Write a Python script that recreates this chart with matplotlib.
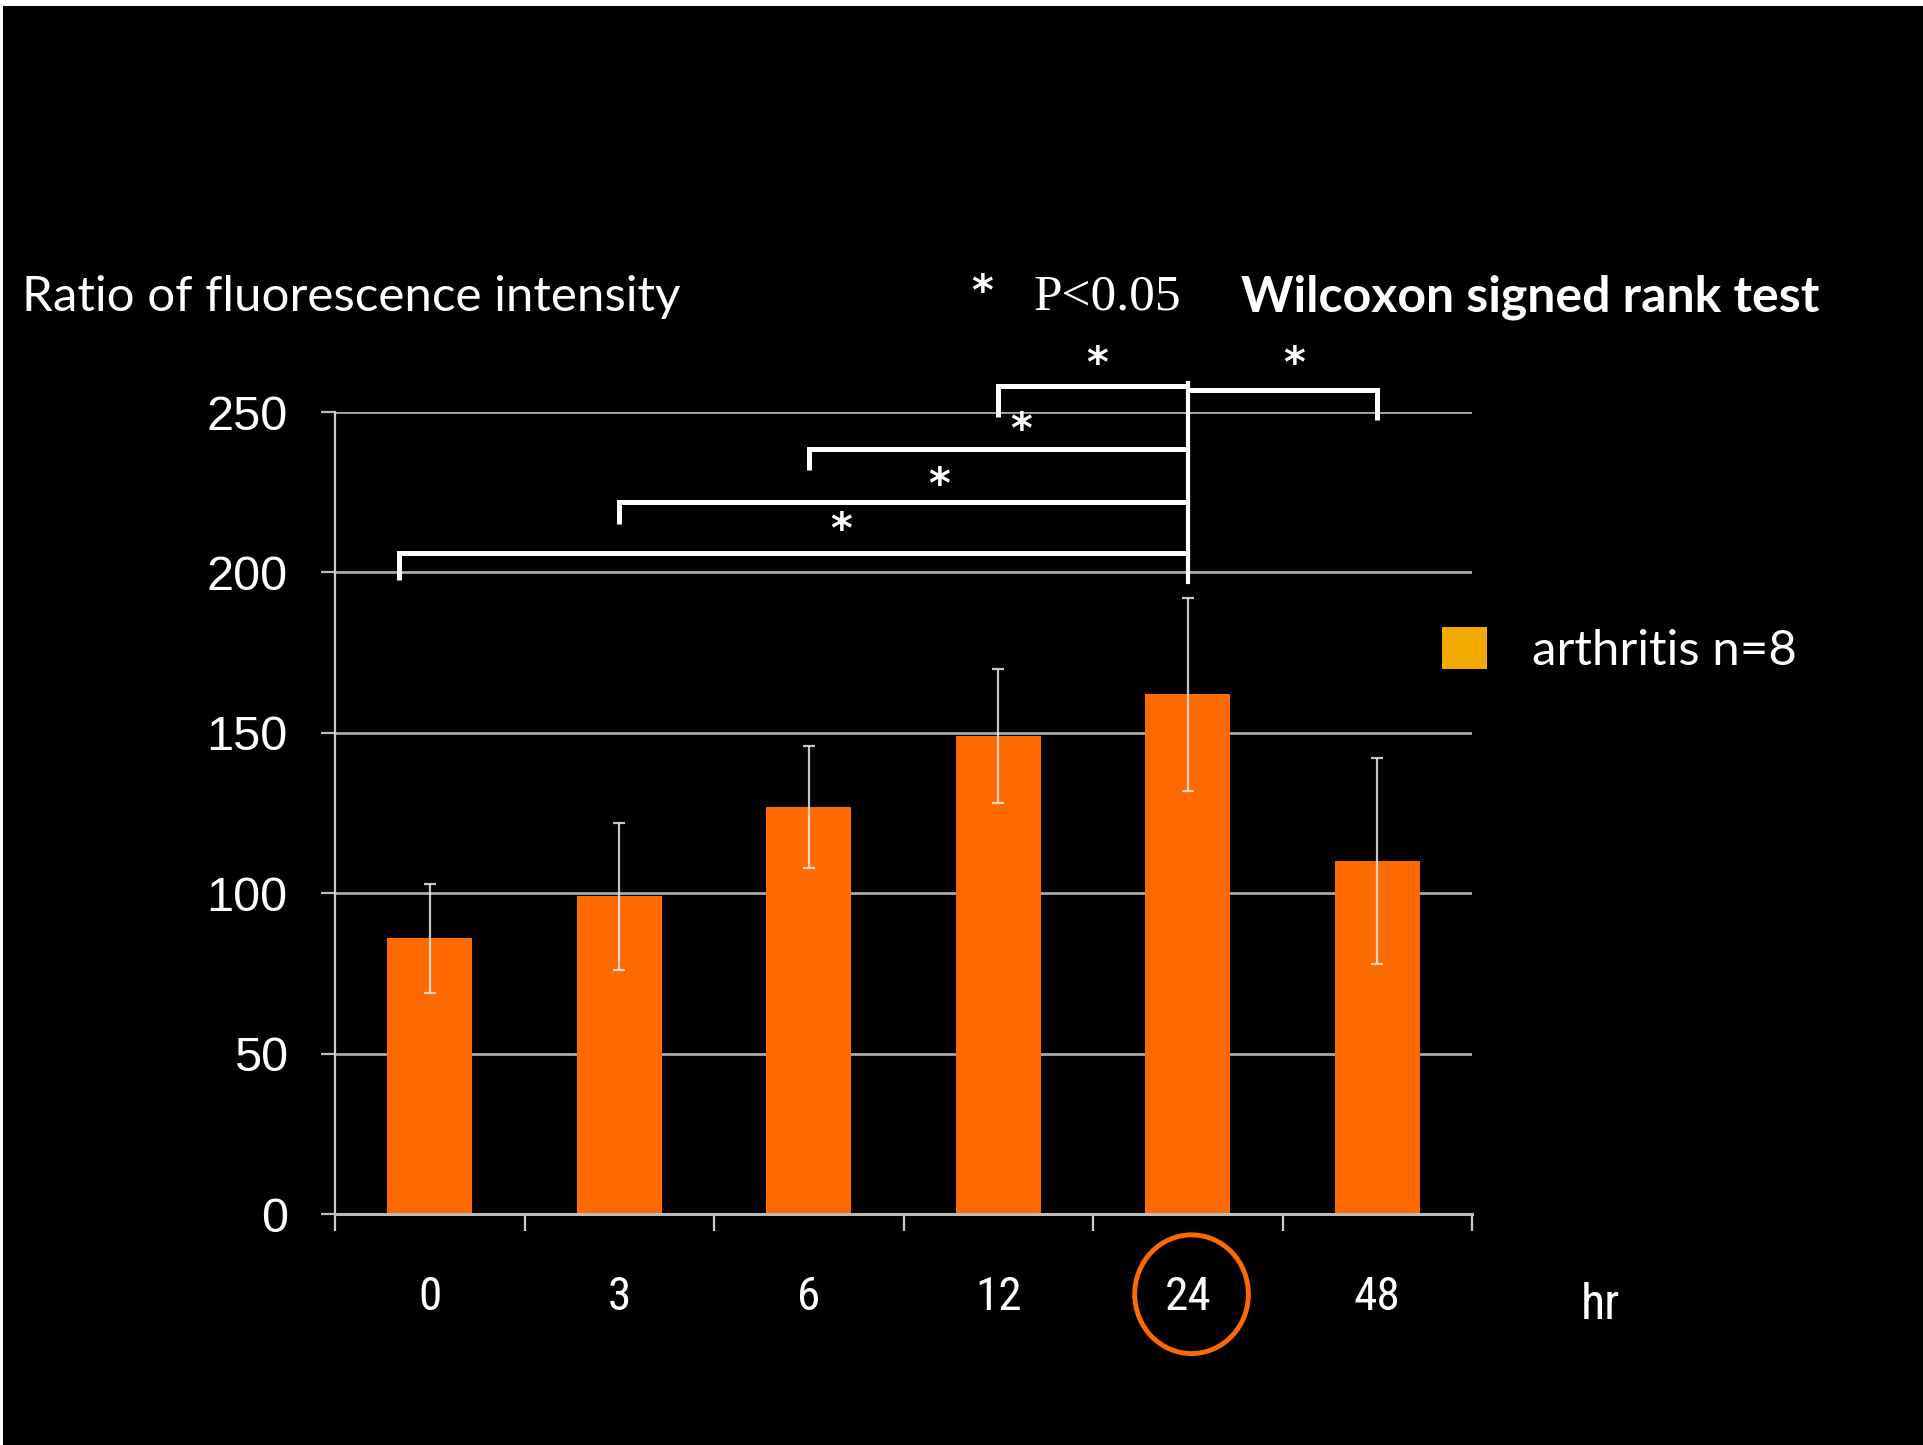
import matplotlib
matplotlib.use("Agg")
import matplotlib.pyplot as plt
from matplotlib.patches import Patch, Ellipse, Rectangle
import matplotlib.transforms as mtransforms
from matplotlib import font_manager

# ---------------- data ----------------
categories = ["0", "3", "6", "12", "24", "48"]
means = [86, 99, 127, 149, 162, 110]
sds = [17, 23, 19, 21, 30, 32]
yticks = [0, 50, 100, 150, 200, 250]
series_label = "arthritis n=8"
# significance brackets: (from category index, to category index, bar height, leg bottom)
brackets = [
    (0, 4, 206, 197.5),
    (1, 4, 222, 215),
    (2, 4, 238.5, 232),
    (3, 4, 258, 248.5),
    (5, 4, 257, 247.5),
]
star_pos = [(2.17, 213), (2.69, 227), (3.12, 244), (3.52, 264.5), (4.56, 264.5)]

avail = {f.name for f in font_manager.fontManager.ttflist}
def pick(*names):
    for n in names:
        if n in avail:
            return n
    return "DejaVu Sans"

narrow = pick("Liberation Sans Narrow", "Roboto Condensed", "Liberation Sans")
arial = pick("Liberation Sans", "DejaVu Sans")
humanist = pick("Lato", "Open Sans", "Noto Sans")
serif = pick("Liberation Serif", "DejaVu Serif")

BG = "black"
BAR = "#FF6A00"
W, H, DPI = 1923, 1445, 100
fig = plt.figure(figsize=(W / DPI, H / DPI), dpi=DPI, facecolor=BG)

# white frame at top-left edges of the original slide
fig.patches.append(Rectangle((0, 1 - 6 / H), 1, 6 / H, transform=fig.transFigure,
                             facecolor="white", edgecolor="none", zorder=10))
fig.patches.append(Rectangle((0, 0), 2.5 / W, 1, transform=fig.transFigure,
                             facecolor="white", edgecolor="none", zorder=10))

left, right = 335 / W, 1472 / W
bottom, top = 1 - 1214 / H, 1 - 412 / H
ax = fig.add_axes([left, bottom, right - left, top - bottom])
ax.set_facecolor(BG)

x = list(range(len(categories)))
ax.bar(x, means, width=0.45, color=BAR, zorder=3)
ax.errorbar(x, means, yerr=sds, fmt="none", ecolor="#E8E8E8", elinewidth=1.6,
            capsize=4, capthick=1.6, alpha=0.85, zorder=4)

ax.set_xlim(-0.5, len(categories) - 0.5)
ax.set_ylim(0, 250)

# y axis
ax.set_yticks(yticks)
ax.set_yticklabels([str(v) for v in yticks], fontfamily=arial, fontsize=35, color="white")
ax.tick_params(axis="y", length=10, width=1.6, color="#BBBBBB", pad=24, direction="out")
ax.grid(axis="y", color="#A8A8A8", linewidth=2.0, zorder=0)
ax.set_axisbelow(True)

# x axis: ticks at boundaries, labels at centers
ax.set_xticks([i - 0.5 for i in range(len(categories) + 1)])
ax.set_xticklabels([""] * (len(categories) + 1))
ax.tick_params(axis="x", which="major", length=12, width=1.6, color="#CCCCCC", direction="out")
ax.set_xticks(x, minor=True)
ax.set_xticklabels(categories, minor=True, fontfamily=narrow, fontsize=34, color="white")
ax.tick_params(axis="x", which="minor", length=0, pad=44)

for s in ["top", "right"]:
    ax.spines[s].set_visible(False)
ax.spines["left"].set_color("#CCCCCC")
ax.spines["left"].set_linewidth(1.6)
ax.spines["bottom"].set_color("#BBBBBB")
ax.spines["bottom"].set_linewidth(2.2)
ax.spines["bottom"].set_zorder(5)

# significance brackets
lw = 3.6
for (i0, i1, yb, yl) in brackets:
    xs = i0 - 0.16 if i0 == 0 else i0
    ax.plot([xs, xs, i1], [yl, yb, yb], color="white", lw=lw, clip_on=False,
            solid_joinstyle="miter", solid_capstyle="butt", zorder=6)
ax.plot([4, 4], [197, 259], color="white", lw=3.0, clip_on=False, zorder=6)
for (sx, sy) in star_pos:
    ax.text(sx, sy, "*", ha="center", va="center", fontsize=30, color="white",
            fontfamily="DejaVu Sans", fontweight="bold", clip_on=False)

# circle around "24"
trans = mtransforms.blended_transform_factory(ax.transData, ax.transAxes)
ax.add_patch(Ellipse((4.02, -0.1), 0.60, 0.148, transform=trans, fill=False,
                     edgecolor="#FF6A00", linewidth=3.5, clip_on=False))
ax.text(6.18, -0.113, "hr", transform=trans, ha="center", va="center",
        fontsize=36, color="white", fontfamily=narrow)

# header texts
fig.text(22 / W, 1 - 297 / H, "Ratio of fluorescence intensity", ha="left", va="center",
         fontsize=35.5, color="white", fontfamily=humanist)
fig.text(982 / W, 1 - 293 / H, "*", ha="center", va="center", fontsize=30,
         color="white", fontfamily="DejaVu Sans", fontweight="bold")
fig.text(1034 / W, 1 - 297 / H, "P<0.05", ha="left", va="center", fontsize=37,
         color="white", fontfamily=serif)
fig.text(1241 / W, 1 - 297 / H, "Wilcoxon signed rank test", ha="left", va="center",
         fontsize=36, color="white", fontfamily=humanist, fontweight="bold")

# legend
handle = Patch(facecolor="#F2AA00", edgecolor="none", label=series_label)
leg = fig.legend(handles=[handle], loc="center left",
                 bbox_to_anchor=(1442 / W, 1 - 650 / H), frameon=False,
                 handlelength=0.92, handleheight=0.92,
                 handletextpad=0.9, borderpad=0, borderaxespad=0,
                 prop={"family": humanist, "size": 35.5})
for t in leg.get_texts():
    t.set_color("white")

fig.savefig("out.png", dpi=DPI, facecolor=BG)
